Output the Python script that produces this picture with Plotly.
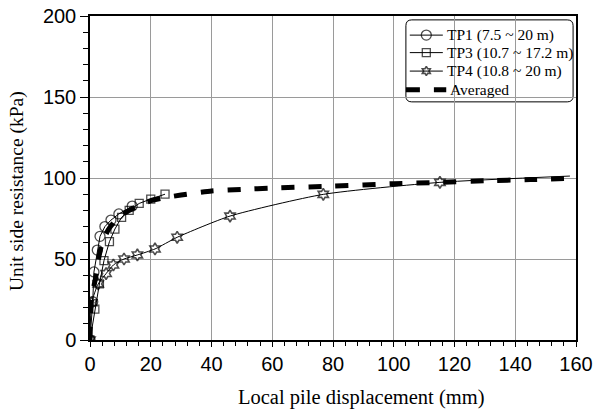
import plotly.graph_objects as go

# Local pile displacement (mm) vs unit side resistance (kPa)
tp1_x = [0, 0.9, 1.3, 2.4, 3.3, 4.9, 6.9, 9.5, 13.9]
tp1_y = [0, 23.6, 42, 55.5, 64, 70, 74, 77.8, 82.7]

tp3_x = [0, 1.6, 3.1, 4.6, 6.4, 8.2, 10.4, 12.9, 16.2, 20, 24.7]
tp3_y = [0, 19, 34.6, 49, 60.7, 68.5, 75.7, 80, 84.3, 87, 90]

tp4_x = [0, 0.55, 2.7, 5.3, 7.7, 11.2, 15.6, 21.4, 28.7, 46.1, 76.8, 115.2, 158]
tp4_y = [0, 23, 34.6, 41, 46.3, 50, 52.5, 56.2, 63.4, 76.5, 89.9, 97.3, 101.2]

avg_x = [0, 0.5, 2, 3, 4, 6, 8, 10, 13, 16, 20, 25, 30, 40, 50, 60, 80, 100, 115, 130, 145, 158]
avg_y = [0, 25, 40, 52, 60, 68, 73, 77, 80, 83, 86, 88, 89.5, 92, 93, 93.8, 95, 96.5, 97.3, 98.3, 99, 99.8]

names = ["TP1 (7.5 ~ 20 m)", "TP3 (10.7 ~ 17.2 m)", "TP4 (10.8 ~ 20 m)", "Averaged"]
x_title = "Local pile displacement (mm)"
y_title = "Unit side resistance (kPa)"

serif = "Liberation Serif, Times New Roman, serif"
sans = "Liberation Sans, Arial, sans-serif"

styles = [
    dict(symbol="circle-open", size=10, key_size=10, width=1.3),
    dict(symbol="square-open", size=8, key_size=8, width=1.3),
    dict(symbol="hexagram-open", size=9, key_size=7, width=1.6),
]

fig = go.Figure()

series = [(tp1_x, tp1_y, "linear"), (tp3_x, tp3_y, "linear"), (tp4_x, tp4_y, "spline")]
for i, (xs, ys, shape) in enumerate(series):
    st = styles[i]
    sizes = [st["size"]] * len(xs)
    if i == 2:
        sizes[-1] = 0  # curve tail carries no marker
    fig.add_trace(go.Scatter(
        x=xs, y=ys, name=names[i], mode="lines+markers", showlegend=False,
        line=dict(color="black", width=1, shape=shape, smoothing=0.6),
        marker=dict(symbol=st["symbol"], size=sizes, color="black", line=dict(width=st["width"])),
    ))
fig.add_trace(go.Scatter(
    x=avg_x, y=avg_y, name=names[3], mode="lines", showlegend=False,
    line=dict(color="black", width=5, dash="13px,14px", shape="spline", smoothing=0.5),
))

axis_common = dict(
    showline=True, linecolor="black", linewidth=1.5, mirror=True,
    showgrid=True, gridcolor="#9a9a9a", gridwidth=1,
    zeroline=False, ticks="outside", tickcolor="black", automargin=False,
    tickfont=dict(family=sans, size=20, color="black"),
)

fig.update_xaxes(
    **axis_common, range=[0, 160], dtick=20, ticklen=5,
    minor=dict(dtick=4, ticks="outside", ticklen=4, tickcolor="black", showgrid=False),
)
fig.update_yaxes(
    **axis_common, range=[0, 200], dtick=50, ticklen=8,
    minor=dict(dtick=10, ticks="outside", ticklen=5, tickcolor="black", showgrid=False),
)

fig.add_annotation(
    text=x_title, xref="paper", yref="paper", x=0.558, y=-0.176,
    xanchor="center", yanchor="middle", showarrow=False,
    font=dict(family=serif, size=20.5, color="black"),
)
fig.add_annotation(
    text=y_title, xref="paper", yref="paper", x=-0.150, y=0.46,
    xanchor="center", yanchor="middle", showarrow=False, textangle=-90,
    font=dict(family=serif, size=19.5, color="black"),
)

# ---- legend: drawn on an overlay axis spanning the plot area in paper units ----
fig.update_layout(
    xaxis2=dict(domain=[0, 1], range=[0, 1], overlaying="x", anchor="y2", visible=False, fixedrange=True),
    yaxis2=dict(domain=[0, 1], range=[0, 1], overlaying="y", anchor="x2", visible=False, fixedrange=True),
)

x0, x1, y0, y1, r = 0.650, 0.994, 0.735, 0.988, 0.012
ry = r * 486 / 324
fig.add_shape(
    type="path", xref="paper", yref="paper",
    path=(f"M {x0 + r},{y1} L {x1 - r},{y1} Q {x1},{y1} {x1},{y1 - ry} "
          f"L {x1},{y0 + ry} Q {x1},{y0} {x1 - r},{y0} "
          f"L {x0 + r},{y0} Q {x0},{y0} {x0},{y0 + ry} "
          f"L {x0},{y1 - ry} Q {x0},{y1} {x0 + r},{y1} Z"),
    line=dict(color="black", width=1), fillcolor="white", layer="below",
)

row_y = [0.941, 0.887, 0.830, 0.772]
line_x0, line_x1, text_x = 0.658, 0.726, 0.730
for i in range(3):
    st = styles[i]
    fig.add_trace(go.Scatter(
        x=[line_x0, (line_x0 + line_x1) / 2, line_x1], y=[row_y[i]] * 3,
        xaxis="x2", yaxis="y2", mode="lines+markers", showlegend=False, hoverinfo="skip",
        line=dict(color="black", width=1),
        marker=dict(symbol=st["symbol"], size=[0, st["key_size"], 0], color="black",
                    line=dict(width=st["width"])),
    ))
    fig.add_annotation(
        text=names[i], xref="paper", yref="paper", x=text_x, y=row_y[i],
        xanchor="left", yanchor="middle", showarrow=False,
        font=dict(family=serif, size=15.5, color="black"),
    )
fig.add_trace(go.Scatter(
    x=[0.650, 0.733], y=[row_y[3]] * 2, xaxis="x2", yaxis="y2",
    mode="lines", showlegend=False, hoverinfo="skip",
    line=dict(color="black", width=5, dash="14px,14px"),
))
fig.add_annotation(
    text=names[3], xref="paper", yref="paper", x=0.737, y=row_y[3],
    xanchor="left", yanchor="middle", showarrow=False,
    font=dict(family=serif, size=15.5, color="black"),
)

fig.update_layout(
    width=595, height=415,
    margin=dict(l=90, r=19, t=16, b=75, autoexpand=False),
    paper_bgcolor="white", plot_bgcolor="rgba(0,0,0,0)",
    showlegend=False,
)

fig.write_html("out.html")
